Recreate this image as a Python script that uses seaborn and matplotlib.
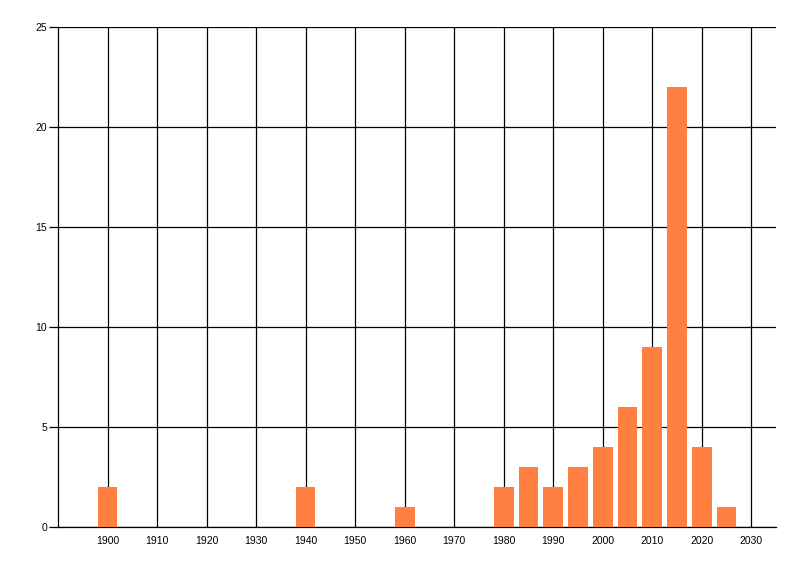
import numpy as np
import pandas as pd
import matplotlib
matplotlib.use("Agg")
import matplotlib.pyplot as plt
import seaborn as sns

# Values
years = [1900, 1940, 1960, 1980, 1985, 1990, 1995, 2000, 2005, 2010, 2015, 2020, 2025]
counts = [2, 2, 1, 2, 3, 2, 3, 4, 6, 9, 22, 4, 1]
x_ticks = list(range(1900, 2031, 10))
y_ticks = [0, 5, 10, 15, 20, 25]

df = pd.DataFrame({"Year": years, "Count": counts})

sns.set_style("white")
plt.rcParams['font.family'] = ['Liberation Sans', 'DejaVu Sans']

fig = plt.figure(figsize=(8, 5.76), dpi=100)
ax = fig.add_axes([58 / 800, 1 - 527 / 576, (776 - 58) / 800, (527 - 27) / 576])

sns.barplot(data=df, x="Year", y="Count", native_scale=True, width=0.8,
            color="#FF8040", saturation=1, linewidth=0, ax=ax, zorder=3)

ax.set_xlim(1890, 2035)
ax.set_ylim(0, 25)
ax.set_xticks(x_ticks)
ax.set_yticks(y_ticks)
ax.set_xlabel("")
ax.set_ylabel("")

# black grid like the WinForms chart
ax.grid(True, color="black", linewidth=0.9, zorder=0)
ax.set_axisbelow(True)
for side in ["top", "right"]:
    ax.spines[side].set_visible(False)
for side in ["left", "bottom"]:
    ax.spines[side].set_color("black")
    ax.spines[side].set_linewidth(0.9)

ax.tick_params(axis="x", length=0, pad=6.5, labelsize=7.5, colors="black")
ax.tick_params(axis="y", length=6.5, width=0.9, pad=1.5, labelsize=7.5, colors="black", left=True)

fig.savefig("out.png", dpi=100)
